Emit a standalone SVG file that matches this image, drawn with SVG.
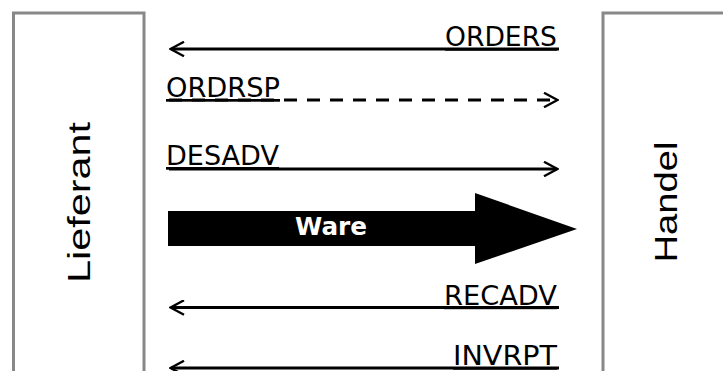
<svg xmlns="http://www.w3.org/2000/svg" width="723" height="371" viewBox="0 0 723 371">
<style>
.box{fill:#fff;stroke:#888;stroke-width:3}
.actor{font-family:"Liberation Sans",Arial,sans-serif;font-size:31px;fill:#000}
.msg{font-family:"DejaVu Sans",Verdana,sans-serif;font-size:27px;fill:#000;text-decoration:underline}
.ln{stroke:#000;stroke-width:3;fill:none}
.dash{stroke-dasharray:13 10}
.ware{font-family:"DejaVu Sans",Verdana,sans-serif;font-size:25px;font-weight:bold;fill:#fff}
</style>
<defs>
<marker id="ah" viewBox="0 0 16 16" markerWidth="16" markerHeight="16" refX="14" refY="8" orient="auto" markerUnits="userSpaceOnUse">
<path d="M1,0.8 L14.5,8 L1,15.2" fill="none" stroke="#000" stroke-width="2.4"/>
</marker>
</defs>
<rect width="723" height="371" fill="#fff"/>
<g id="lieferant">
<rect class="box" x="13.5" y="13" width="130.5" height="380"/>
<text class="actor" transform="translate(90,202.5) rotate(-90)" text-anchor="middle" textLength="161" lengthAdjust="spacingAndGlyphs">Lieferant</text>
</g>
<g id="handel">
<rect class="box" x="603" y="13" width="140" height="380"/>
<text class="actor" transform="translate(677,202) rotate(-90)" text-anchor="middle" textLength="121" lengthAdjust="spacingAndGlyphs">Handel</text>
</g>
<g id="connectors">
<g id="orders">
<line class="ln" x1="559" y1="49" x2="171" y2="49" marker-end="url(#ah)"/>
<text class="msg" x="557" y="46" text-anchor="end" textLength="112" lengthAdjust="spacingAndGlyphs">ORDERS</text>
</g>
<g id="ordrsp">
<line class="ln dash" x1="169" y1="100" x2="557" y2="100" marker-end="url(#ah)"/>
<text class="msg" x="166" y="97" textLength="114" lengthAdjust="spacingAndGlyphs">ORDRSP</text>
</g>
<g id="desadv">
<line class="ln" x1="169" y1="169" x2="557" y2="169" marker-end="url(#ah)"/>
<text class="msg" x="166" y="165" textLength="113" lengthAdjust="spacingAndGlyphs">DESADV</text>
</g>
<g id="ware">
<path d="M168,211 L475,211 L475,193 L577,229 L475,264 L475,246 L168,246 Z" fill="#000"/>
<text class="ware" x="331" y="235" text-anchor="middle" textLength="72" lengthAdjust="spacingAndGlyphs">Ware</text>
</g>
<g id="recadv">
<line class="ln" x1="559" y1="307.5" x2="171" y2="307.5" marker-end="url(#ah)"/>
<text class="msg" x="557" y="304.5" text-anchor="end" textLength="113" lengthAdjust="spacingAndGlyphs">RECADV</text>
</g>
<g id="invrpt">
<line class="ln" x1="559" y1="368" x2="171" y2="368" marker-end="url(#ah)"/>
<text class="msg" x="557" y="365" text-anchor="end" textLength="104" lengthAdjust="spacingAndGlyphs">INVRPT</text>
</g>
</g>
</svg>
